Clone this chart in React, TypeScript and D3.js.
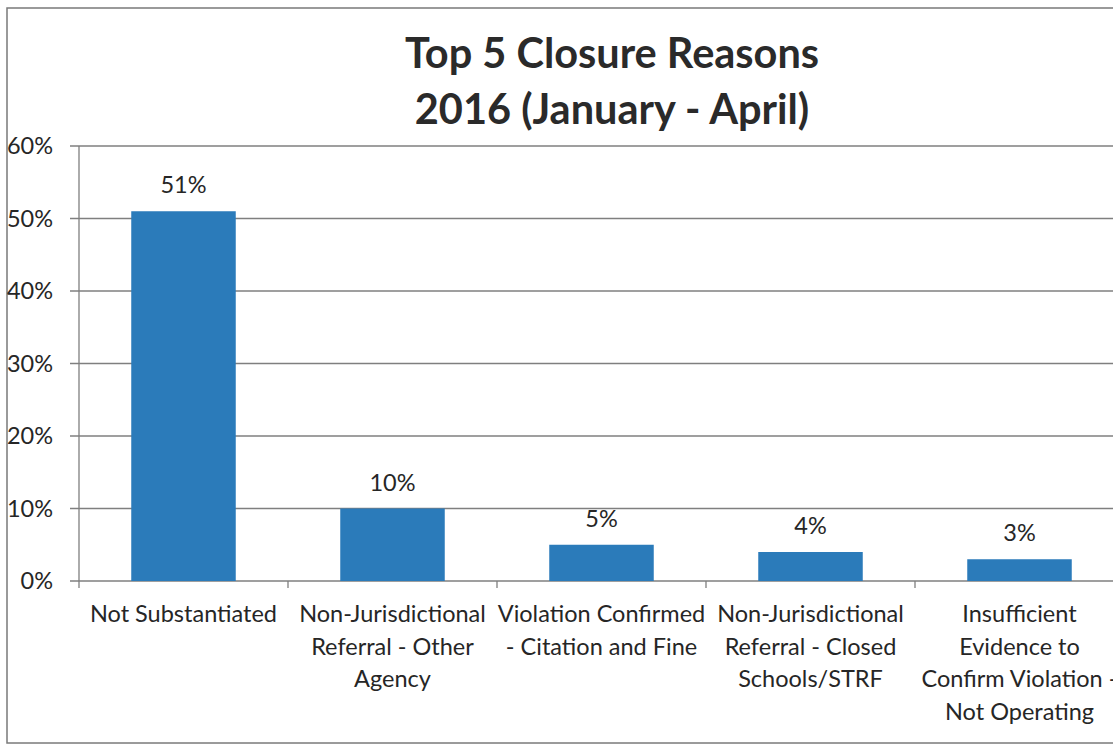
import * as d3 from "d3";

const WIDTH = 1113;
const HEIGHT = 746;
const MARGIN = { top: 146, left: 79, bottom: 165 };
const BAND = 209;
const BAR_PADDING = 0.5;
const FONT = "Lato, 'Open Sans', sans-serif";
const TEXT = "#262626";
const LABEL_SIZE = 23.5;

const categories = [
  "Not Substantiated",
  "Non-Jurisdictional Referral - Other Agency",
  "Violation Confirmed - Citation and Fine",
  "Non-Jurisdictional Referral - Closed Schools/STRF",
  "Insufficient Evidence to Confirm Violation - Not Operating",
];
const values = [0.51, 0.1, 0.05, 0.04, 0.03];
const tickLabels = [
  ["Not Substantiated"],
  ["Non-Jurisdictional", "Referral - Other", "Agency"],
  ["Violation Confirmed", "- Citation and Fine"],
  ["Non-Jurisdictional", "Referral - Closed", "Schools/STRF"],
  ["Insufficient", "Evidence to", "Confirm Violation -", "Not Operating"],
];
const yTicks = [0, 0.1, 0.2, 0.3, 0.4, 0.5, 0.6];
const titleLines = ["Top 5 Closure Reasons", "2016 (January - April)"];

export default function App() {
  const plotBottom = HEIGHT - MARGIN.bottom;
  const xScale = d3
    .scaleBand()
    .domain(categories)
    .range([MARGIN.left, MARGIN.left + BAND * categories.length])
    .paddingInner(BAR_PADDING)
    .paddingOuter(BAR_PADDING / 2);
  const yScale = d3.scaleLinear().domain([0, 0.6]).range([plotBottom, MARGIN.top]);
  const fmt = d3.format(".0%");
  const x0 = MARGIN.left;
  const x1 = MARGIN.left + BAND * categories.length;
  const step = xScale.step();
  const mid = (c: string) => (xScale(c) ?? 0) + xScale.bandwidth() / 2;

  return (
    <svg
      width={WIDTH}
      height={HEIGHT}
      style={{ position: "absolute", left: 0, top: 0, display: "block", background: "#fff" }}
    >
      {/* chart frame */}
      <rect x={7} y={8} width={1300} height={735} fill="#fff" stroke="#7a7a7a" strokeWidth={1.5} />

      {/* title */}
      {titleLines.map((t, i) => (
        <text
          key={t}
          x={612}
          y={68 + i * 56}
          textAnchor="middle"
          fontFamily={FONT}
          fontWeight={700}
          fontSize={41.5}
          fill="#2a2a2a"
        >
          {t}
        </text>
      ))}

      {/* gridlines + y axis labels */}
      {yTicks.map((t) => (
        <g key={t} transform={`translate(0,${yScale(t)})`}>
          <line x1={70} x2={x1} stroke="#7f7f7f" strokeWidth={1.3} />
          <text
            x={53}
            dy="0.35em"
            textAnchor="end"
            fontFamily={FONT}
            fontSize={LABEL_SIZE}
            fill={TEXT}
          >
            {fmt(t)}
          </text>
        </g>
      ))}

      {/* y axis line */}
      <line x1={x0} x2={x0} y1={MARGIN.top} y2={plotBottom + 7} stroke="#7f7f7f" strokeWidth={1.3} />

      {/* x ticks at band edges */}
      {categories.map((c, i) => (
        <line
          key={c}
          x1={x0 + step * (i + 1)}
          x2={x0 + step * (i + 1)}
          y1={plotBottom}
          y2={plotBottom + 7}
          stroke="#7f7f7f"
          strokeWidth={1.3}
        />
      ))}

      {/* bars */}
      {categories.map((c, i) => (
        <rect
          key={c}
          x={xScale(c)}
          y={yScale(values[i])}
          width={xScale.bandwidth()}
          height={plotBottom - yScale(values[i])}
          fill="#2b7bba"
        />
      ))}

      {/* data labels */}
      {categories.map((c, i) => (
        <text
          key={c}
          x={mid(c)}
          y={yScale(values[i]) - 18}
          textAnchor="middle"
          fontFamily={FONT}
          fontSize={LABEL_SIZE}
          fill={TEXT}
        >
          {fmt(values[i])}
        </text>
      ))}

      {/* category labels */}
      {categories.map((c, i) => (
        <text
          key={c}
          x={mid(c)}
          y={plotBottom + 41}
          textAnchor="middle"
          fontFamily={FONT}
          fontSize={LABEL_SIZE}
          fill={TEXT}
        >
          {tickLabels[i].map((line, j) => (
            <tspan key={j} x={mid(c)} dy={j === 0 ? 0 : 32.6}>
              {line}
            </tspan>
          ))}
        </text>
      ))}
    </svg>
  );
}
